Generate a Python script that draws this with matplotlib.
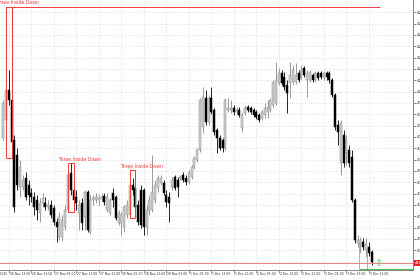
import matplotlib
matplotlib.use("Agg")
import matplotlib.pyplot as plt
import matplotlib.patches as mpatches
from matplotlib.transforms import blended_transform_factory
import numpy as np

# hourly OHLC
opens = [4196.2, 4198.0, 4201.0, 4200.0, 4196.0, 4194.5, 4191.3, 4191.3, 4192.2, 4191.5,
         4190.7, 4190.3, 4190.0, 4188.7, 4189.7, 4189.7, 4189.3, 4189.5, 4189.2, 4187.8,
         4186.3, 4186.3, 4187.3, 4189.0, 4192.7, 4191.0, 4190.3, 4188.7, 4189.7, 4188.3,
         4190.8, 4186.8, 4190.0, 4190.0, 4190.0, 4190.1, 4190.4, 4189.0, 4188.7, 4190.7,
         4190.3, 4187.7, 4187.7, 4187.3, 4188.5, 4188.5, 4191.5, 4191.2, 4189.5, 4191.0,
         4191.0, 4187.3, 4189.0, 4189.0, 4190.0, 4191.2, 4191.7, 4191.7, 4190.5, 4190.3,
         4191.3, 4192.3, 4192.0, 4192.2, 4192.5, 4192.2, 4191.8, 4192.3, 4193.3, 4194.0,
         4195.0, 4197.3, 4200.2, 4197.8, 4200.2, 4199.0, 4197.0, 4196.2, 4196.0, 4195.2,
         4199.0, 4199.0, 4199.2, 4198.8, 4199.0, 4197.2, 4198.7, 4199.3, 4199.2, 4199.0,
         4198.8, 4198.5, 4198.2, 4198.5, 4198.8, 4199.0, 4199.5, 4199.7, 4201.7, 4202.7,
         4202.3, 4201.5, 4201.7, 4201.8, 4201.8, 4202.7, 4202.3, 4203.2, 4202.0, 4202.0,
         4202.5, 4202.0, 4202.7, 4202.7, 4202.2, 4202.7, 4202.7, 4202.0, 4200.5, 4197.5,
         4193.7, 4196.5, 4194.7, 4195.0, 4194.3, 4190.0, 4185.7, 4185.6, 4185.8, 4185.0,
         4185.3, 4184.8]
highs = [4200.0, 4201.5, 4203.0, 4209.3, 4196.5, 4195.2, 4194.0, 4192.5, 4192.8, 4192.0,
         4191.2, 4190.8, 4190.5, 4190.2, 4190.7, 4190.3, 4190.0, 4190.0, 4189.5, 4188.2,
         4188.8, 4188.5, 4189.5, 4193.0, 4193.7, 4191.5, 4191.0, 4190.0, 4190.2, 4191.0,
         4191.0, 4190.5, 4190.5, 4190.7, 4190.5, 4190.7, 4190.7, 4190.7, 4190.2, 4191.2,
         4190.5, 4189.0, 4188.8, 4189.5, 4190.0, 4192.8, 4192.2, 4193.0, 4190.0, 4191.5,
         4191.2, 4189.5, 4190.5, 4194.5, 4192.0, 4192.5, 4192.5, 4192.0, 4191.0, 4190.8,
         4192.3, 4192.5, 4192.3, 4192.5, 4192.8, 4192.5, 4193.0, 4193.5, 4194.4, 4195.2,
         4200.2, 4201.3, 4201.0, 4200.5, 4201.3, 4199.2, 4197.2, 4196.5, 4196.2, 4200.2,
         4200.2, 4200.0, 4199.5, 4199.3, 4199.3, 4198.8, 4199.5, 4199.5, 4199.4, 4199.2,
         4199.0, 4198.7, 4199.0, 4199.7, 4200.0, 4200.2, 4202.0, 4203.8, 4203.2, 4203.0,
         4202.8, 4202.0, 4203.8, 4203.5, 4203.7, 4203.0, 4203.5, 4203.4, 4203.0, 4203.0,
         4202.7, 4202.9, 4202.9, 4202.9, 4202.9, 4202.9, 4202.9, 4202.2, 4200.7, 4198.0,
         4198.0, 4197.0, 4196.5, 4195.5, 4195.0, 4190.2, 4186.5, 4186.3, 4186.2, 4186.2,
         4185.8, 4185.0]
lows = [4196.0, 4197.5, 4199.5, 4194.2, 4188.8, 4191.0, 4190.3, 4191.0, 4190.0, 4189.5,
        4189.8, 4188.5, 4188.0, 4187.8, 4189.3, 4189.0, 4189.0, 4188.2, 4187.5, 4185.8,
        4186.0, 4185.9, 4187.0, 4188.8, 4190.5, 4189.0, 4189.0, 4187.0, 4187.0, 4187.0,
        4186.8, 4186.6, 4189.5, 4189.7, 4189.5, 4189.9, 4189.5, 4188.8, 4188.5, 4189.3,
        4188.0, 4187.5, 4186.5, 4186.8, 4188.2, 4188.2, 4190.5, 4189.0, 4187.5, 4187.2,
        4186.5, 4186.5, 4188.5, 4188.8, 4189.7, 4190.8, 4191.5, 4190.5, 4189.3, 4187.8,
        4191.0, 4191.0, 4190.3, 4192.0, 4191.8, 4191.5, 4191.6, 4192.1, 4193.1, 4193.8,
        4194.8, 4196.7, 4197.5, 4197.5, 4198.6, 4196.5, 4194.7, 4195.0, 4194.8, 4195.0,
        4198.8, 4198.7, 4198.5, 4198.5, 4198.3, 4196.8, 4198.5, 4198.8, 4198.6, 4198.3,
        4198.1, 4197.8, 4198.0, 4198.2, 4198.2, 4198.8, 4199.3, 4199.5, 4201.5, 4201.5,
        4201.0, 4198.7, 4200.2, 4201.5, 4201.6, 4201.8, 4202.1, 4202.3, 4200.3, 4201.8,
        4201.8, 4201.8, 4202.0, 4202.1, 4202.0, 4202.0, 4201.7, 4200.3, 4197.0, 4195.5,
        4192.5, 4193.3, 4193.5, 4193.3, 4189.8, 4185.7, 4185.3, 4184.7, 4185.0, 4184.3,
        4184.4, 4183.5]
closes = [4199.7, 4201.0, 4200.0, 4195.8, 4189.3, 4191.5, 4193.3, 4192.0, 4190.3, 4190.5,
          4190.3, 4189.3, 4189.0, 4189.7, 4190.2, 4189.3, 4189.5, 4188.5, 4187.8, 4187.3,
          4188.3, 4188.0, 4189.0, 4192.5, 4191.0, 4190.0, 4189.7, 4189.5, 4187.7, 4190.8,
          4187.0, 4190.0, 4190.2, 4190.3, 4190.3, 4190.3, 4189.8, 4190.3, 4190.0, 4190.0,
          4188.2, 4188.7, 4188.5, 4189.3, 4189.5, 4191.5, 4191.0, 4189.3, 4187.8, 4187.5,
          4187.3, 4189.0, 4190.0, 4190.8, 4191.5, 4192.2, 4192.2, 4190.7, 4189.8, 4189.7,
          4192.0, 4191.2, 4191.3, 4192.3, 4192.0, 4191.8, 4192.7, 4193.3, 4194.2, 4195.0,
          4200.0, 4200.3, 4197.8, 4200.2, 4198.8, 4196.8, 4196.2, 4195.2, 4195.2, 4200.0,
          4199.2, 4199.2, 4198.8, 4199.0, 4198.5, 4198.5, 4199.2, 4199.0, 4198.8, 4198.5,
          4198.3, 4198.0, 4198.8, 4199.2, 4199.3, 4200.0, 4201.8, 4202.0, 4202.7, 4201.7,
          4201.3, 4200.7, 4202.5, 4203.0, 4202.5, 4202.0, 4203.0, 4202.5, 4202.7, 4202.8,
          4202.0, 4202.7, 4202.2, 4202.3, 4202.7, 4202.3, 4202.0, 4200.5, 4197.3, 4196.8,
          4197.7, 4193.7, 4196.0, 4193.7, 4190.0, 4186.0, 4186.0, 4186.0, 4185.3, 4185.6,
          4184.7, 4183.8]

time_labels = ["26 Nov 13:00", "26 Nov 21:00", "27 Nov 05:00", "27 Nov 13:00",
               "27 Nov 21:00", "28 Nov 05:00", "28 Nov 13:00", "28 Nov 21:00",
               "1 Dec 05:00", "1 Dec 13:00", "1 Dec 21:00", "2 Dec 05:00",
               "2 Dec 13:00", "2 Dec 21:00", "3 Dec 05:00", "3 Dec 13:00",
               "3 Dec 21:00"]
label_bars = [2, 10, 18, 26, 34, 42, 50, 58, 66, 74, 82, 90, 98, 106, 114, 122, 130]

# first bar of each "Three Inside Down" pattern
pattern_starts = [1, 23, 45]
pattern_name = "Three Inside Down"

opens = np.array(opens); highs = np.array(highs)
lows = np.array(lows); closes = np.array(closes)
n = len(opens)
idx = np.arange(n)

fig = plt.figure(figsize=(4.2, 2.8), dpi=100)
fig.patch.set_facecolor('white')
ax = fig.add_axes([0, 10 / 280, 413 / 420, 270 / 280])
ax.set_facecolor('white')

ax.set_xlim(-1.14, 145.7)
ax.set_ylim(4183.0, 4210.0)

# grid
yt = np.arange(4183.85, 4209.2, 1.133)
ax.set_yticks(yt)
ax.set_yticklabels([f"{v:.2f}" for v in yt])
ax.set_xticks(label_bars)
ax.set_xticklabels([])
ax.grid(True, color='#c8c8c8', linestyle=(0, (1, 2)), linewidth=0.5)
ax.set_axisbelow(True)

ax.yaxis.tick_right()
ax.tick_params(axis='y', length=2, width=0.5, color='#606060', labelsize=3.2,
               pad=1, labelcolor='#303030')
ax.tick_params(axis='x', length=2, width=0.5, color='#606060')
for s in ['top', 'left']:
    ax.spines[s].set_visible(False)
for s in ['right', 'bottom']:
    ax.spines[s].set_color('#707070')
    ax.spines[s].set_linewidth(0.6)

# candles
up = closes >= opens
wick_col = np.where(up, '#8a8a8a', '#000000')
ax.vlines(idx, lows, highs, colors=wick_col, linewidth=0.6, zorder=2)
body_lo = np.minimum(opens, closes)
body_h = np.maximum(np.abs(closes - opens), 0.08)
ax.bar(idx[up], body_h[up], bottom=body_lo[up], width=0.72,
       color='#cfcfcf', edgecolor='#8a8a8a', linewidth=0.35, zorder=3)
ax.bar(idx[~up], body_h[~up], bottom=body_lo[~up], width=0.72,
       color='#000000', edgecolor='#000000', linewidth=0.35, zorder=3)

# pattern boxes + labels
red = '#f03c3c'
for s in pattern_starts:
    hi = highs[s:s + 3].max()
    lo = lows[s:s + 3].min()
    ax.add_patch(mpatches.Rectangle((s, lo), 2, hi - lo, fill=False,
                                    edgecolor=red, linewidth=0.7, zorder=4))
    ax.text(s - 3.6, hi + 0.15, pattern_name, color=red, fontsize=3.3,
            ha='left', va='bottom', zorder=5)

# level from first pattern high
top_hi = highs[pattern_starts[0]:pattern_starts[0] + 3].max()
ax.hlines(top_hi, pattern_starts[0], 134, colors=red, linewidth=0.7, zorder=4)

# bid line + price tag
bid = 4183.7
ax.axhline(bid, color='#f28080', linewidth=0.7, zorder=4)
ax.text(1.004, bid, f"{bid:.2f}", transform=blended_transform_factory(ax.transAxes, ax.transData),
        color='white', fontsize=3.0, ha='left', va='center', clip_on=False, zorder=6,
        bbox=dict(boxstyle='square,pad=0.25', facecolor='#e02020', edgecolor='none'))

# green marker at the bottom right
ax.hlines(4183.1, 126.5, 145.7, colors='#50c050', linewidth=0.8, zorder=4)
ax.vlines([126.5, 129.3], [4183.1, 4183.1], [4185.7, 4185.2], colors='#909090',
          linewidth=0.5, zorder=4)
ax.text(133.3, 4183.75, "\u21e7", color='#50c050', fontsize=7, ha='center',
        va='center', zorder=5)

# time labels
trans = blended_transform_factory(ax.transData, ax.transAxes)
for b, t in zip(label_bars, time_labels):
    ax.text(b + 0.4, -0.016, t, transform=trans, fontsize=2.2, color='#303030',
            ha='left', va='center', clip_on=False)
ax.text(label_bars[0] - 0.4, -0.016, "26 Nov 2025", transform=trans, fontsize=2.2,
        color='#303030', ha='right', va='center', clip_on=False)

fig.savefig("out.png", dpi=100, facecolor='white')
plt.close(fig)
